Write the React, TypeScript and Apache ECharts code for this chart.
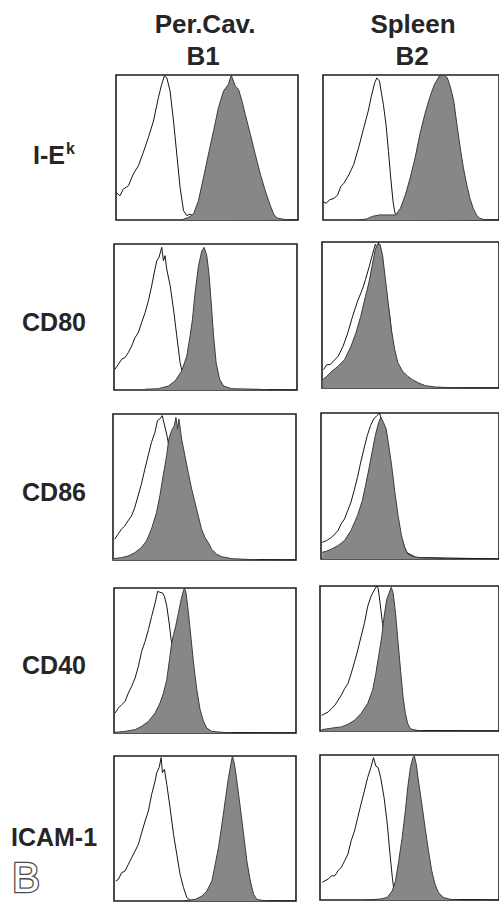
import React, { useEffect, useRef } from "react";
import * as echarts from "echarts";

// ---- column & row labels ----
const columnTitles = ["Per.Cav.", "Spleen"];
const columnSubtitles = ["B1", "B2"];
const rowLabels = ["I-E", "CD80", "CD86", "CD40", "ICAM-1"];
const rowLabelSup = "k";
const panelLetter = "B";

// ---- histogram data: [fluorescence %, relative count %] ----
// I-E^k
const ieB1Ctrl = [[0,19],[2.2,16.7],[4,21.3],[6.8,23.6],[9.5,31.7],[12.3,37.4],[15,46.6],[17.8,56.9],[20.6,68.3],[23.3,84.4],[25.1,93.6],[26.6,99.3],[27.9,98.2],[29.7,89],[31.6,68.3],[33.4,45.4],[35.2,22.5],[37.1,6.4],[38.9,3],[40.7,4.1],[44,1.5],[50,0.5],[100,0]];
const ieB1Stain = [[36,0],[39.8,1.8],[42.6,4.1],[45.3,13.3],[48.1,29.4],[50.8,45.4],[53.6,61.5],[56.3,77.5],[59.1,89],[61.8,93.6],[63.3,100],[65.5,92.4],[67.3,90.1],[69.2,82.1],[71,72.9],[73.8,59.2],[76.5,45.4],[79.3,31.7],[82,20.2],[84.8,9.9],[86.6,4.1],[88.4,1.4],[91.2,0.7],[95,0]];
const ieB2Ctrl = [[0,12.7],[1.8,11.5],[3.7,13.9],[6.4,15],[8.3,17.3],[10.1,23.1],[11.9,25.4],[14.7,31.2],[17.4,38.1],[20.2,49.7],[22.9,62.4],[25.7,75.1],[27.5,85.5],[29.4,94.7],[30.6,98],[32.1,95.8],[33,88.9],[34.3,79.7],[35.8,65.8],[37.2,47.3],[38.5,28.9],[39.8,12.7],[40.9,4.6],[42.2,3.5],[46,1],[55,0.3],[100,0]];
const ieB2Stain = [[20,0],[24.8,0.7],[28,2.5],[32.1,3.5],[36,3.5],[41.3,3.5],[44,8.1],[46.8,17.3],[49.5,28.9],[52.3,42.7],[55,58.9],[57.8,72.7],[60.6,84.3],[63.3,93.5],[66.1,99.3],[68.8,100],[70.6,98.2],[72.5,91.2],[74.3,82],[76.1,65.8],[78,49.7],[79.8,35.8],[81.7,24.2],[83.5,15],[85.3,8.1],[87.2,3.5],[89,1.2],[91.7,0.2],[95,0]];
// CD80
const cd80B1Ctrl = [[0.5,14.2],[2.4,17.6],[4.2,21.1],[6,22.2],[7.8,25.6],[9.7,30.2],[11.5,35.9],[13.3,39.4],[15.1,46.2],[17,53.1],[18.8,61.1],[20.6,71.4],[22.4,82.8],[23.4,88.6],[24.6,90.8],[26.1,97.7],[27,88.6],[27.9,92],[28.8,82.8],[30.7,71.4],[32.5,55.4],[34.3,37.1],[36.1,18.8],[37.4,11.9],[38.9,5],[42,2],[50,0.5],[100,0]];
const cd80B1Stain = [[17,0.5],[24.3,0.9],[29.7,2.7],[33.4,6.2],[37,13],[39.8,23.3],[41.6,37.1],[42.9,48.5],[44.3,66.8],[46.2,85.1],[48,95.4],[49.3,97.7],[50.7,92],[52,78.3],[53.1,60],[54.4,37.1],[55.8,18.8],[57.7,7.3],[59.9,2.7],[64.4,0.9],[79,0.5],[85,0]];
const cd80B2Ctrl = [[0.9,12.6],[2.7,16],[4.6,16],[6.4,18.3],[9.1,21.7],[11.9,28.6],[14.6,37.8],[17.3,49.2],[20.1,59.5],[22.8,67.5],[24.6,74.4],[26.5,82.4],[28.3,90.4],[30.1,98.4],[31,96.1],[31.9,99.5],[33.2,95],[34.7,81.2],[36.5,62.9],[38.3,49.2],[40.1,28.6],[42,14.9],[45.6,8],[51.1,3.4],[56.6,1.1],[63.9,0.2],[100,0]];
const cd80B2Stain = [[0.4,5.7],[2.7,8],[5.5,11.4],[9.1,14.9],[12.8,19.5],[16.4,28.6],[19.2,37.8],[21.9,49.2],[24.6,62.9],[26.5,72.1],[28.3,83.5],[30.1,95],[31.4,98.4],[32.8,98.4],[34.3,90.4],[35.6,76.7],[37.4,58.4],[39.2,40],[41.1,26.3],[42.9,17.2],[45.6,11.4],[48.4,8],[51.1,5.7],[54.7,3.4],[58.4,1.6],[63.9,0.7],[73,0.2],[82.1,0]];
// CD86
const cd86B1Ctrl = [[0.9,14.2],[2.7,17.6],[4.6,21.1],[6.4,23.3],[8.2,26.8],[10.1,30.2],[11.9,35.9],[13.7,43.9],[15.5,51.9],[17.4,62.2],[19.2,71.4],[21,80.5],[22.9,87.4],[24.3,95.4],[25.6,96.6],[26.9,98.9],[28,93.1],[29.3,86.3],[30.2,80.5],[31.1,64.5],[32.9,41.6],[34.7,21.1],[36.6,9.6],[39.3,3.9],[43,1.6],[50.3,0.5],[100,0]];
const cd86B1Stain = [[0,0.9],[4.6,1.6],[8.2,2.7],[11.9,5],[15.5,8.5],[18.3,13],[21,21.1],[23.8,32.5],[25.6,43.9],[27.4,57.7],[29.3,71.4],[30.5,82.8],[32,88.6],[33.5,92],[34.4,97.7],[35.3,89.7],[36,96.6],[37.5,82.8],[39.3,71.4],[41.1,60],[43,48.5],[44.8,39.4],[46.6,30.2],[48.4,21.1],[50.3,15.3],[52.1,11.9],[53.9,7.3],[56.7,3.9],[59.4,2.3],[64.9,0.9],[72.2,0.5],[80,0]];
const cd86B2Ctrl = [[0.7,11.4],[3.1,12.6],[5.9,14.8],[7.7,17.1],[9.5,19.4],[11.3,24],[13.2,27.4],[15,33.1],[16.8,38.8],[18.6,46.8],[20.5,55.9],[22.3,66.2],[24.1,75.3],[26,84.5],[27.8,91.3],[29.6,95.9],[31.4,98.2],[32.9,100],[34.2,94.7],[36,82.2],[38.8,59.4],[41.5,36.5],[44.2,18.3],[47.9,4.6],[53.4,1.1],[100,0]];
const cd86B2Stain = [[0.7,4.6],[3.1,5.3],[5.9,6.8],[9.5,9.1],[13.2,12.6],[16.8,19.4],[20.5,29.7],[23.2,40],[25,50.2],[26.9,61.6],[28.7,73.1],[30.5,84.5],[32.4,93.6],[33.6,97],[35.1,93.6],[36.6,89],[37.8,79.9],[39.7,63.9],[41.5,45.7],[43.3,29.7],[45.2,16],[47,8],[48.8,3.4],[51.6,1.8],[55.2,0.9],[64.4,0.5],[75,0]];
// CD40
const cd40B1Ctrl = [[0.6,13.8],[2.4,17.2],[4.2,19.5],[6.1,21.8],[7.9,27.6],[9.7,32.2],[11.6,37.9],[13.4,46],[15.2,56.3],[17.1,63.2],[18.9,71.3],[20.7,80.5],[22.6,89.7],[24,97.7],[25.3,97],[26.6,96.6],[27.7,94.3],[29,87.4],[30.3,75.9],[31.4,64.4],[32.1,59.8],[33.6,36.8],[35.4,13.8],[38.2,3.4],[42.8,1.1],[50,0.3],[100,0]];
const cd40B1Stain = [[0.6,0.5],[6.1,1.1],[11.6,2.3],[15.2,4.6],[18.9,8],[22.6,13.8],[25.3,20.7],[27.2,27.6],[29,36.8],[30.5,50.6],[31.7,62.1],[32.7,67.8],[33.9,73.6],[35.4,82.8],[36.9,92],[37.8,96.6],[38.7,100],[39.6,96.6],[40.9,82.8],[42.4,64.4],[43.9,46],[45.5,29.9],[47.3,16.1],[49.2,8],[51,3.4],[53.8,1.1],[59.3,0.5],[65,0]];
const cd40B2Ctrl = [[0.9,10.8],[2.8,12],[4.6,13.1],[6.4,15.4],[8.3,17.7],[10.1,21.2],[11.9,24.7],[13.8,29.3],[15.6,32.7],[17.4,39.6],[19.3,47.7],[21.1,55.8],[22.9,65],[24.8,74.2],[26.6,85.7],[28.4,92.6],[30.3,97.2],[31.7,100],[32.5,98.4],[33.6,88],[34.9,74.2],[35.8,67.3],[37.6,44.2],[40.4,21.2],[43.1,7.4],[46.8,1.6],[55,0.3],[100,0]];
const cd40B2Stain = [[0.9,0.9],[4.6,1.6],[8.3,2.3],[11.9,2.8],[15.6,4.6],[19.3,7.4],[22.9,12],[26.6,18.9],[29.4,28.1],[31.2,39.6],[33,53.5],[34.5,65],[35.8,78.8],[37.2,90.3],[38.5,94.9],[39.8,99.1],[40.9,94.9],[42.2,81.1],[43.5,62.7],[45,41.9],[46.4,23.5],[47.7,12],[49,5.1],[50.5,1.6],[53.2,0.5],[57.8,0]];
// ICAM-1
const icamB1Ctrl = [[0.9,13.8],[2.4,14.9],[4.2,19.5],[6.1,20.7],[7.9,25.3],[9.7,29.9],[11.6,34.5],[13.4,39.1],[15.2,47.1],[17.1,55.2],[18.9,62.1],[20.7,73.6],[22.6,82.8],[23.5,88.5],[24.8,92],[25.9,98.9],[26.6,88.5],[27.7,90.8],[29,80.5],[30.8,64.4],[32.7,46],[34.5,32.2],[36.3,18.4],[38.2,9.2],[40,2.3],[41.8,0.5],[44.6,0.5],[48.3,1.1],[55,0.5],[100,0]];
const icamB1Stain = [[38,0],[40.9,0.5],[44.6,1.1],[48.3,3.4],[51,6.9],[53.8,13.8],[55.6,25.3],[57.4,36.8],[59.3,52.9],[61.1,69],[62.9,85.1],[64.2,94.3],[65.1,100],[66.2,94.3],[67.5,82.8],[69.4,64.4],[71.2,46],[73,27.6],[74.9,13.8],[76.7,4.6],[78.5,1.1],[81.3,0.5],[85,0]];
const icamB2Ctrl = [[1.3,12.2],[2.8,13.3],[4.6,14.4],[6.4,16.7],[8.3,16.7],[10.1,20.2],[11.9,22.5],[13.8,27.1],[15.6,31.7],[17.4,40.8],[19.3,47.7],[21.1,56.9],[22.9,66.1],[24.8,75.2],[26.6,84.4],[28.4,91.3],[29.9,98.2],[31.2,92.4],[32.5,91.3],[33.9,84.4],[35.8,70.6],[37.6,52.3],[39.1,31.7],[40.4,15.6],[41.3,6.4],[42.8,1.8],[45,0.7],[100,0]];
const icamB2Stain = [[25,0],[28.4,0.2],[33.9,0.7],[37.6,1.8],[40.4,6.4],[42.2,13.3],[44,27.1],[45.9,43.1],[47.7,61.5],[49,77.5],[50.5,91.3],[51.9,98.2],[52.7,99.3],[53.8,93.6],[55,82.1],[56.9,66.1],[58.7,50],[60.6,33.9],[62.4,20.2],[64.2,11],[66.1,5.3],[68.8,1.8],[72.5,0.5],[78,0]];

const panelData = [
  [ieB1Ctrl, ieB1Stain], [ieB2Ctrl, ieB2Stain],
  [cd80B1Ctrl, cd80B1Stain], [cd80B2Ctrl, cd80B2Stain],
  [cd86B1Ctrl, cd86B1Stain], [cd86B2Ctrl, cd86B2Stain],
  [cd40B1Ctrl, cd40B1Stain], [cd40B2Ctrl, cd40B2Stain],
  [icamB1Ctrl, icamB1Stain], [icamB2Ctrl, icamB2Stain],
];

// layout (pixels)
const panelBoxes = [
  { left: 116, top: 75, width: 182, height: 145 },
  { left: 323, top: 75, width: 182, height: 145 },
  { left: 114, top: 244, width: 183, height: 146 },
  { left: 322, top: 242, width: 183, height: 146 },
  { left: 113, top: 414, width: 183, height: 146 },
  { left: 321, top: 413, width: 183, height: 146 },
  { left: 114, top: 588, width: 182, height: 145 },
  { left: 320, top: 586, width: 182, height: 145 },
  { left: 114, top: 756, width: 182, height: 145 },
  { left: 320, top: 755, width: 182, height: 145 },
];
const rowLabelY = [155, 322, 492, 665, 837];
const FONT = "'Liberation Sans', Arial, Helvetica, sans-serif";
const TEXT = "#262626";

export default function App() {
  const ref = useRef<HTMLDivElement>(null);
  useEffect(() => {
    if (!ref.current) return;
    const chart = echarts.init(ref.current, null, { renderer: "svg" });
    const grid = panelBoxes.map((b) => ({
      ...b,
      show: true,
      backgroundColor: "#ffffff",
      borderColor: "#1e1e1e",
      borderWidth: 1.6,
      containLabel: false,
    }));
    const xAxis = panelBoxes.map((_, i) => ({
      type: "value", gridIndex: i, min: 0, max: 100, show: false,
    }));
    const yAxis = panelBoxes.map((_, i) => ({
      type: "value", gridIndex: i, min: 0, max: 100, show: false,
    }));
    const series: any[] = [];
    panelData.forEach(([ctrl, stain], i) => {
      series.push({
        type: "line", xAxisIndex: i, yAxisIndex: i, data: ctrl,
        symbol: "none", z: 2,
        lineStyle: { color: "#151515", width: 1 },
      });
      series.push({
        type: "line", xAxisIndex: i, yAxisIndex: i, data: stain,
        symbol: "none", z: 3,
        lineStyle: { color: "#3c3c3c", width: 1 },
        areaStyle: { color: "#878787", opacity: 1 },
      });
    });
    const graphic: any[] = [];
    columnTitles.forEach((t, c) => {
      const cx = c === 0 ? 205 : 413;
      graphic.push({
        type: "text", x: cx, y: 24,
        style: { text: t, font: `bold 26px ${FONT}`, fill: TEXT, align: "center", verticalAlign: "middle" },
      });
      graphic.push({
        type: "text", x: c === 0 ? 203 : 412, y: 56,
        style: { text: columnSubtitles[c], font: `bold 26px ${FONT}`, fill: TEXT, align: "center", verticalAlign: "middle" },
      });
    });
    rowLabels.forEach((t, r) => {
      if (r === 0) {
        graphic.push({
          type: "text", x: 33, y: rowLabelY[r],
          style: { text: t, font: `bold 25px ${FONT}`, fill: TEXT, align: "left", verticalAlign: "middle" },
        });
        graphic.push({
          type: "text", x: 66, y: rowLabelY[r] - 7,
          style: { text: rowLabelSup, font: `bold 16px ${FONT}`, fill: TEXT, align: "left", verticalAlign: "middle" },
        });
      } else {
        graphic.push({
          type: "text", x: 54, y: rowLabelY[r],
          style: { text: t, font: `bold 25px ${FONT}`, fill: TEXT, align: "center", verticalAlign: "middle" },
        });
      }
    });
    graphic.push({
      type: "text", x: 12, y: 877,
      style: { text: panelLetter, font: `42px ${FONT}`, fill: "#ffffff", stroke: "#4a4a4a", lineWidth: 2.6, align: "left", verticalAlign: "middle" },
    });
    chart.setOption({
      animation: false,
      backgroundColor: "#ffffff",
      grid, xAxis, yAxis, series, graphic,
    });
    return () => chart.dispose();
  }, []);
  return (
    <div
      ref={ref}
      style={{ position: "absolute", left: 0, top: 0, width: 499, height: 902 }}
    />
  );
}
